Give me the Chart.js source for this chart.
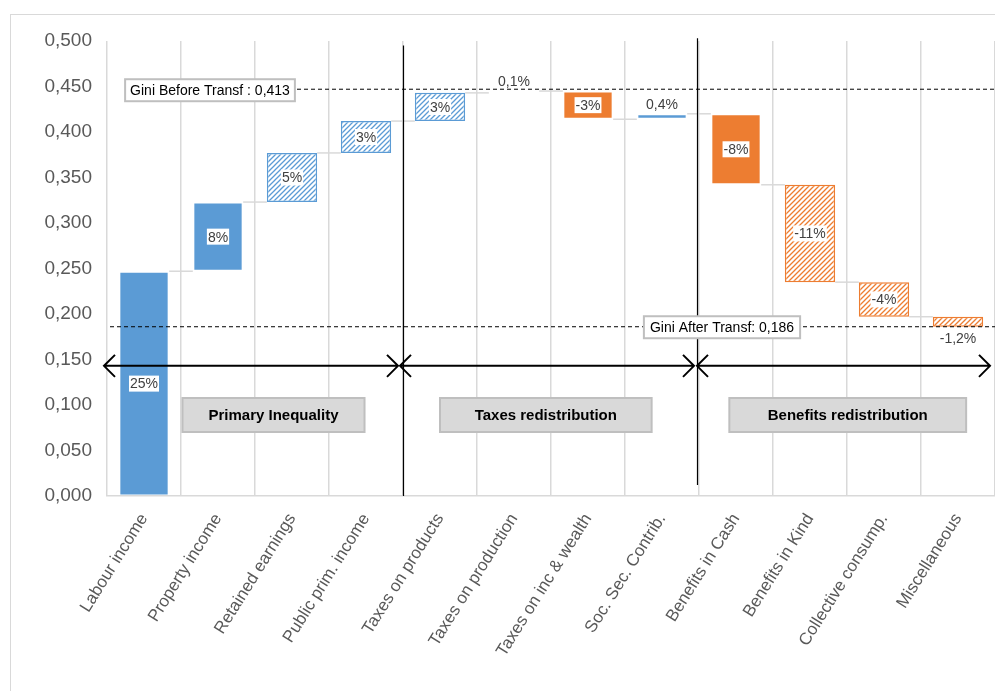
<!DOCTYPE html>
<html>
<head>
<meta charset="utf-8">
<script src="https://cdn.jsdelivr.net/npm/chart.js@4.4.0/dist/chart.umd.min.js"></script>
<style>
  body { margin: 0; background: #fff; }
  #wrap { position: relative; width: 995px; height: 691px; }
  #frame { position: absolute; left: 10px; top: 14px; width: 990px; height: 690px; border: 1px solid #d9d9d9; }
</style>
</head>
<body>
<div id="wrap">
  <div id="frame"></div>
  <canvas id="chart"></canvas>
</div>
<script>
// waterfall steps of the Gini index
const categories = ["Labour income", "Property income", "Retained earnings", "Public prim. income",
  "Taxes on products", "Taxes on production", "Taxes on inc & wealth", "Soc. Sec. Contrib.",
  "Benefits in Cash", "Benefits in Kind", "Collective consump.", "Miscellaneous"];
const startValues = [0.000, 0.247, 0.323, 0.377, 0.412, 0.443, 0.445, 0.414, 0.420, 0.342, 0.235, 0.197];
const endValues   = [0.247, 0.323, 0.377, 0.412, 0.443, 0.445, 0.414, 0.420, 0.342, 0.235, 0.197, 0.186];
const barLabels = ["25%", "8%", "5%", "3%", "3%", "0,1%", "-3%", "0,4%", "-8%", "-11%", "-4%", "-1,2%"];
const hatched = [false, false, true, true, true, false, false, false, false, true, true, true];

const yMin = 0, yMax = 0.5, yStep = 0.05;
const giniBeforeText = "Gini Before Transf : 0,413";
const giniBeforeLevel = 0.447;
const giniAfterText = "Gini After Transf: 0,186";
const giniAfterLevel = 0.186;
const sectionNames = ["Primary Inequality", "Taxes redistribution", "Benefits redistribution"];

const BLUE = "#5b9bd5";
const ORANGE = "#ed7d31";
const FONT = "'Liberation Sans', Arial, sans-serif";

function hatch(color) {
  const n = 5;
  const c = document.createElement("canvas");
  c.width = n; c.height = n;
  const g = c.getContext("2d");
  g.fillStyle = "#ffffff";
  g.fillRect(0, 0, n, n);
  g.strokeStyle = color;
  g.lineWidth = 1.3;
  g.beginPath();
  g.moveTo(0, n); g.lineTo(n, 0);
  g.moveTo(-1, 1); g.lineTo(1, -1);
  g.moveTo(n - 1, n + 1); g.lineTo(n + 1, n - 1);
  g.stroke();
  return g.createPattern(c, "repeat");
}

const colours = startValues.map((s, i) => endValues[i] >= s ? BLUE : ORANGE);
const fills = colours.map((c, i) => hatched[i] ? hatch(c) : c);
const borders = colours.map((c, i) => hatched[i] ? c : "rgba(0,0,0,0)");

function labelBox(ctx, text, cx, cy, font, bg, border, color, padX, padY) {
  ctx.font = font;
  const w = ctx.measureText(text).width;
  const h = parseInt(font.match(/(\d+)px/)[1], 10);
  ctx.fillStyle = bg;
  ctx.fillRect(cx - w / 2 - padX, cy - h / 2 - padY, w + 2 * padX, h + 2 * padY);
  if (border) {
    ctx.strokeStyle = border;
    ctx.lineWidth = 2;
    ctx.strokeRect(cx - w / 2 - padX, cy - h / 2 - padY, w + 2 * padX, h + 2 * padY);
  }
  ctx.fillStyle = color;
  ctx.textAlign = "center";
  ctx.textBaseline = "middle";
  ctx.fillText(text, cx, cy + 1);
}

function arrow(ctx, x1, x2, y) {
  ctx.strokeStyle = "#000";
  ctx.lineWidth = 2;
  ctx.beginPath();
  ctx.moveTo(x1, y); ctx.lineTo(x2, y);
  ctx.moveTo(x1 + 11, y - 11); ctx.lineTo(x1, y); ctx.lineTo(x1 + 11, y + 11);
  ctx.moveTo(x2 - 11, y - 11); ctx.lineTo(x2, y); ctx.lineTo(x2 - 11, y + 11);
  ctx.stroke();
}

const extras = {
  id: "extras",
  beforeDatasetsDraw(chart) {
    const ctx = chart.ctx, y = chart.scales.y;
    const bars = chart.getDatasetMeta(0).data;
    ctx.save();
    ctx.strokeStyle = "#d9d9d9";
    ctx.lineWidth = 1.5;
    for (let i = 0; i < bars.length - 1; i++) {
      const py = y.getPixelForValue(endValues[i]);
      ctx.beginPath();
      ctx.moveTo(bars[i].x + bars[i].width / 2, py);
      ctx.lineTo(bars[i + 1].x - bars[i + 1].width / 2, py);
      ctx.stroke();
    }
    ctx.restore();
  },
  afterDatasetsDraw(chart) {
    const ctx = chart.ctx, x = chart.scales.x, y = chart.scales.y, area = chart.chartArea;
    const bars = chart.getDatasetMeta(0).data;
    const half = (x.getPixelForValue(1) - x.getPixelForValue(0)) / 2;
    const edge = i => x.getPixelForValue(i) + half; // right boundary of category i
    ctx.save();

    // section separators
    ctx.strokeStyle = "#000";
    ctx.lineWidth = 1.2;
    ctx.beginPath();
    ctx.moveTo(Math.round(edge(3)) + 0.5, y.getPixelForValue(0.495));
    ctx.lineTo(Math.round(edge(3)) + 0.5, y.getPixelForValue(0));
    ctx.moveTo(Math.round(edge(7)) - 1.5, y.getPixelForValue(0.503));
    ctx.lineTo(Math.round(edge(7)) - 1.5, y.getPixelForValue(0.012));
    ctx.stroke();

    // Gini reference lines
    ctx.setLineDash([4, 3]);
    ctx.lineWidth = 1;
    const yb = y.getPixelForValue(giniBeforeLevel);
    const ya = y.getPixelForValue(giniAfterLevel);
    ctx.beginPath();
    ctx.moveTo(area.left + 190, yb); ctx.lineTo(area.right, yb);
    ctx.moveTo(area.left + 3, ya); ctx.lineTo(area.right, ya);
    ctx.stroke();
    ctx.setLineDash([]);
    labelBox(ctx, giniBeforeText, area.left + 103, yb + 1, "14px " + FONT, "#fff", "#bfbfbf", "#000", 5, 4);
    labelBox(ctx, giniAfterText, edge(7) + 23, ya + 0.5, "14px " + FONT, "#fff", "#bfbfbf", "#000", 6, 4);

    // double arrows
    const ay = y.getPixelForValue(0.143);
    arrow(ctx, area.left - 3, edge(3) - 5, ay);
    arrow(ctx, edge(3) - 3, edge(7) - 5, ay);
    arrow(ctx, edge(7) - 2, area.right - 5, ay);

    // section boxes
    const boxes = [[1.75, 2.46], [5.43, 2.86], [9.51, 3.2]];
    const by = y.getPixelForValue(0.089);
    sectionNames.forEach((name, k) => {
      const cx = x.getPixelForValue(0) + boxes[k][0] * half * 2;
      const w = boxes[k][1] * half * 2;
      ctx.fillStyle = "#d9d9d9";
      ctx.fillRect(cx - w / 2, by - 17, w, 34);
      ctx.strokeStyle = "#bfbfbf";
      ctx.lineWidth = 2;
      ctx.strokeRect(cx - w / 2, by - 17, w, 34);
      ctx.fillStyle = "#000";
      ctx.font = "bold 15px " + FONT;
      ctx.textAlign = "center";
      ctx.textBaseline = "middle";
      ctx.fillText(name, cx, by + 1);
    });

    // bar value labels
    bars.forEach((b, i) => {
      const top = y.getPixelForValue(Math.max(startValues[i], endValues[i]));
      const bot = y.getPixelForValue(Math.min(startValues[i], endValues[i]));
      const inside = bot - top >= 20;
      let cy = (top + bot) / 2;
      if (!inside) cy = endValues[i] >= startValues[i] ? top - 10 : bot + 11;
      labelBox(ctx, barLabels[i], b.x, cy, "14px " + FONT, inside ? "#fff" : "rgba(0,0,0,0)", null, "#404040", 1, 1);
    });
    ctx.restore();
  }
};

new Chart(document.getElementById("chart"), {
  type: "bar",
  data: {
    labels: categories,
    datasets: [{
      data: categories.map((c, i) => [startValues[i], endValues[i]]),
      backgroundColor: fills,
      borderColor: borders,
      borderWidth: 1.5,
      borderSkipped: false,
      barPercentage: 0.68,
      categoryPercentage: 1
    }]
  },
  options: {
    responsive: true,
    maintainAspectRatio: false,
    animation: false,
    layout: { padding: { top: 41, right: 0, bottom: 0, left: 0 } },
    plugins: { legend: { display: false }, tooltip: { enabled: false } },
    scales: {
      x: {
        grid: { color: "#d9d9d9", lineWidth: 1.5, drawTicks: false, offset: true },
        border: { color: "#d9d9d9", width: 1.5 },
        ticks: {
          autoSkip: false, minRotation: 58, maxRotation: 58, padding: 14,
          color: "#595959", font: { size: 17, family: FONT }
        },
        afterFit(s) { s.height = 195; }
      },
      y: {
        min: yMin, max: yMax,
        grid: { display: false, drawTicks: false },
        border: { display: false },
        ticks: {
          stepSize: yStep, padding: 15, color: "#595959", font: { size: 19, family: FONT },
          callback: v => v.toFixed(3).replace(".", ",")
        },
        afterFit(s) { s.width = 107; }
      }
    }
  },
  plugins: [extras]
});
</script>
</body>
</html>
